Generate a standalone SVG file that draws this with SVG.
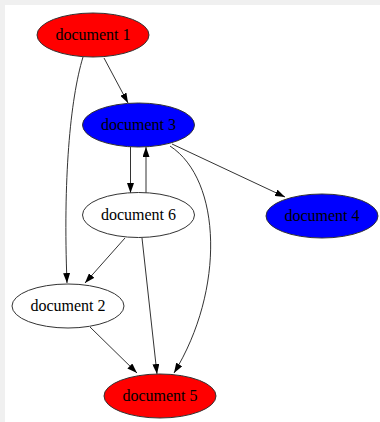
<svg xmlns="http://www.w3.org/2000/svg" width="380" height="422" viewBox="0 0 380 422">
<style>
.n ellipse{stroke:#333;stroke-width:1}
.n text{font-family:"Liberation Serif","Times New Roman",serif;font-size:16px;text-anchor:middle;fill:#000}
.e path{fill:none;stroke:#333;stroke-width:1}
</style>
<defs>
<marker id="ah" viewBox="0 0 10 7" refX="10" refY="3.5" markerWidth="10" markerHeight="7" markerUnits="userSpaceOnUse" orient="auto">
<path d="M0,0 L10,3.5 L0,7 Z" fill="#000"/>
</marker>
</defs>
<rect x="0" y="0" width="380" height="422" fill="#f0f0f0"/>
<rect x="5" y="5" width="375" height="417" fill="#fff"/>
<g class="e">
<path d="M104,58 L128,103" marker-end="url(#ah)"/>
<path d="M83,57 C70,100 63,180 67,283" marker-end="url(#ah)"/>
<path d="M130.5,147 L130.5,193" marker-end="url(#ah)"/>
<path d="M146,193 L146,147" marker-end="url(#ah)"/>
<path d="M172,144 L285,197" marker-end="url(#ah)"/>
<path d="M170,146 C222,180 225,290 174,373" marker-end="url(#ah)"/>
<path d="M125,238 L85,283" marker-end="url(#ah)"/>
<path d="M142,238 L157,374" marker-end="url(#ah)"/>
<path d="M90,327 L137,373" marker-end="url(#ah)"/>
</g>
<g id="document1" class="n"><ellipse cx="93" cy="35" rx="56" ry="22" fill="#ff0000"/><text x="93" y="40">document 1</text></g>
<g id="document3" class="n"><ellipse cx="138.5" cy="125" rx="56" ry="22" fill="#0000ff"/><text x="138.5" y="130">document 3</text></g>
<g id="document6" class="n"><ellipse cx="138.5" cy="215" rx="56" ry="22.5" fill="#fff"/><text x="138.5" y="220">document 6</text></g>
<g id="document4" class="n"><ellipse cx="322" cy="216" rx="56" ry="22" fill="#0000ff"/><text x="322" y="221">document 4</text></g>
<g id="document2" class="n"><ellipse cx="68" cy="306" rx="56" ry="22" fill="#fff"/><text x="68" y="311">document 2</text></g>
<g id="document5" class="n"><ellipse cx="160" cy="396" rx="56" ry="22" fill="#ff0000"/><text x="160" y="401">document 5</text></g>
</svg>
